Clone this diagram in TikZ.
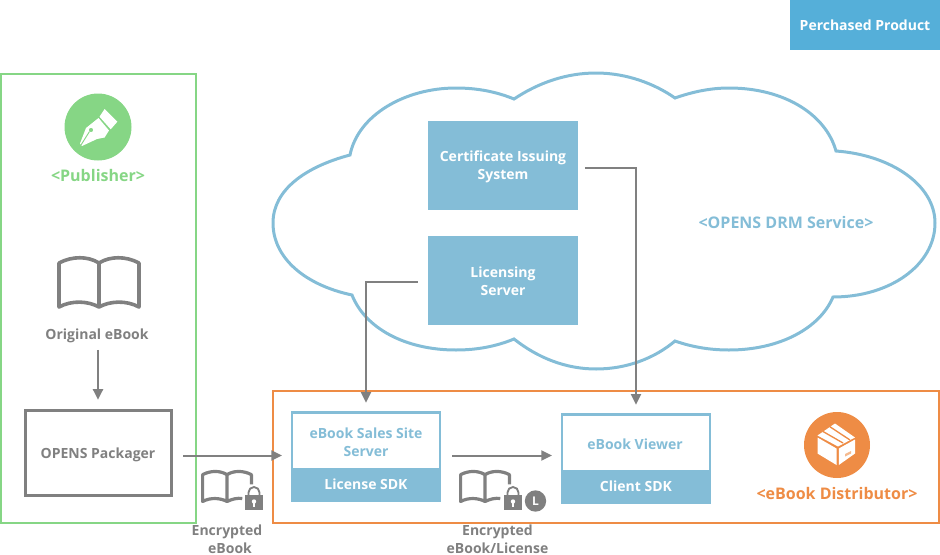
\documentclass[tikz,border=0pt]{standalone}
\usepackage{fontspec}
\setmainfont{Open Sans}[BoldFont={Open Sans Bold}]
\usetikzlibrary{arrows.meta}
\definecolor{cblue}{HTML}{84BDD7}
\definecolor{ckey}{HTML}{55AFD9}
\definecolor{cgreen}{HTML}{86D685}
\definecolor{corange}{HTML}{EE8C45}
\definecolor{cgray}{HTML}{808080}
\tikzset{
  txt/.style={inner sep=0pt,align=center,font=\bfseries\fontsize{10.5}{13.5}\selectfont},
  bluebox/.style={fill=cblue,text=white,inner sep=0pt,align=center,minimum width=112.5pt,font=\bfseries\fontsize{10.5}{13.5}\selectfont},
  frame/.style={draw=#1,line width=1.9pt,fill=none,inner sep=0pt},
  conn/.style={draw=cgray,line width=1.5pt,-{Triangle[length=8pt,width=7.5pt]}},
  bookicon/.pic={
    \draw[line join=round,pic actions]
      (1,50)--(1,6) .. controls (14,-1) and (30,-1) .. (41,6)
      .. controls (52,-1) and (68,-1) .. (81,6) -- (81,50)
      .. controls (68,43) and (52,44) .. (41,50)
      .. controls (30,44) and (14,43) .. (1,50) -- cycle
      (41,6)--(41,50);
  },
  smallbook/.pic={
    \draw[line join=round,pic actions]
      (66,45) .. controls (58,44) and (49,46) .. (41,50)
      .. controls (30,44) and (14,43) .. (1,50) -- (1,6)
      .. controls (14,-1) and (30,-1) .. (41,6)
      .. controls (52,-1) and (68,-1) .. (81,6) -- (81,22)
      (41,6)--(41,50);
  },
  lockicon/.pic={
    \fill[cgray] (0,0) rectangle (18,15);
    \draw[cgray,line width=1.4pt] (3.5,0)--(3.5,-2.5) arc[start angle=180,end angle=0,x radius=5.5,y radius=-5.5] -- (14.5,0);
    \fill[white] (9,6.5) circle[radius=2.2];
    \fill[white] (8,7) rectangle (10,11.5);
  },
}
\begin{document}
\begin{tikzpicture}[x=.75pt,y=-.75pt]
\useasboundingbox (0,0) rectangle (940,554);
% cloud
\draw[cblue,line width=2.25pt,line join=miter,miter limit=1.5]
  (350,155) .. controls (358,115) and (405,88) .. (456,88)
  .. controls (478,88) and (497,92) .. (514,99)
  .. controls (538,83) and (566,73) .. (596,73)
  .. controls (627,73) and (655,84) .. (675,98)
  .. controls (692,92) and (710,88) .. (729,88)
  .. controls (785,88) and (826,115) .. (836,151)
  .. controls (891,155) and (935,185) .. (935,223)
  .. controls (935,265) and (890,297) .. (833,297)
  .. controls (820,328) and (780,350) .. (729,350)
  .. controls (710,350) and (692,347) .. (675,341)
  .. controls (655,358) and (627,369) .. (596,369)
  .. controls (566,369) and (538,358) .. (514,339)
  .. controls (497,346) and (478,350) .. (456,350)
  .. controls (405,350) and (365,328) .. (352,295)
  .. controls (305,285) and (273,258) .. (273,223)
  .. controls (273,190) and (305,167) .. (350,155) -- cycle;
% group frames
\node[frame=cgreen,line width=1.9pt,minimum width=146pt,minimum height=336.75pt] (pub) at (98.5,298.5) {};
\node[frame=corange,line width=1.9pt,minimum width=499.5pt,minimum height=99pt] (dist) at (606,457) {};
% top key
\node[fill=ckey,text=white,txt,minimum width=112.5pt,minimum height=37.5pt] (key) at (865,25) {Perchased Product};
% cloud boxes
\node[bluebox,minimum height=66.75pt] (cert) at (503,165.5) {};
\node[txt,text=white] (certt) at (503,167) {Certificate Issuing\\System};
\node[bluebox,minimum height=66.75pt] (lic) at (503,280.5) {};
\node[txt,text=white] (lict) at (503,281) {Licensing\\Server};
\node[txt,text=cblue] (drm) at (786,222.5) {\fontsize{12}{13.5}\selectfont <OPENS DRM Service>};
% publisher
\fill[cgreen] (98,127) circle[radius=33.5];
\begin{scope}[shift={(-1,0)}]
\fill[white] (105.6,109)--(118.4,121.7)--(111.7,129.3)--(100.5,116.7)--cycle;
\fill[white,even odd rule] (99.5,118)--(87,128)--(81,143.5)--(83,146)--(98,139)--(105.6,137.5)--(110,130.5)--cycle
  (92,130) circle[radius=2.2];
\draw[cgreen,line width=.7pt] (82,145)--(90.5,131.5);
\end{scope}
\node[txt,text=cgreen] (publ) at (98,175.5) {\fontsize{12}{13.5}\selectfont <Publisher>};
\pic[draw=cgray,line width=2.7pt] at (58,257) {bookicon};
\node[txt,text=cgray] (orig) at (97,336) {Original eBook};
\node[draw=cgray,line width=2.25pt,txt,text=cgray,minimum width=109.5pt,minimum height=63.5pt] (pack) at (98,453) {};
\node[txt,text=cgray] (packt) at (98,455) {OPENS Packager};
% sales
\node[frame=cblue,fill=white,line width=2.1pt,minimum width=111pt,minimum height=65.5pt] (sales) at (366,456.5) {};
\node[fill=cblue,minimum width=112.5pt,minimum height=25pt,inner sep=0pt,txt,text=white] (lsdk) at (366,484.5) {License SDK};
\node[txt,text=cblue] (salest) at (366,442) {eBook Sales Site\\Server};
% viewer
\node[frame=cblue,fill=white,line width=2.1pt,minimum width=111pt,minimum height=65.5pt] (view) at (636,458.5) {};
\node[fill=cblue,minimum width=112.5pt,minimum height=25pt,inner sep=0pt,txt,text=white] (csdk) at (636,486.5) {Client SDK};
\node[txt,text=cblue] (viewt) at (635,444.5) {eBook Viewer};
% distributor icon
\fill[corange] (837,445) circle[radius=33];
\fill[white] (817.5,435.5)--(835,423.5)--(855,437.5)--(838,446.5)--cycle;
\fill[white] (817.5,437.5)--(836.5,448.5)--(836.5,465)--(817.5,453.5)--cycle;
\fill[white] (838.8,448.5)--(855,439.5)--(855,453.5)--(838.8,465)--cycle;
\draw[corange,line width=1pt] (823,431.5)--(843,443) (830,426.8)--(850,440);
\fill[corange!60] (845,454)--(851,451)--(851,453.5)--(845,456.5)--cycle;
\node[txt,text=corange] (distl) at (837,493) {\fontsize{12}{13.5}\selectfont <eBook Distributor>};
% small icons
\begin{scope}[shift={(202,471)},scale=.61,transform shape]
\pic[draw=cgray,line width=2.4pt] at (0,0) {smallbook};
\end{scope}
\pic at (245,495) {lockicon};
\begin{scope}[shift={(460,471)},scale=.61,transform shape]
\pic[draw=cgray,line width=2.4pt] at (0,0) {smallbook};
\end{scope}
\pic at (504,495) {lockicon};
\node[circle,fill=cgray,text=white,minimum size=16pt,inner sep=0pt,font=\bfseries\fontsize{9}{10}\selectfont] (lmark) at (535.5,501) {L};
\node[txt,text=cgray] (enc1) at (227,539) {Encrypted\\\hspace{4.5pt}eBook};
\node[txt,text=cgray] (enc2) at (497.5,539) {Encrypted\hspace{2pt}\\eBook/License};
% connectors
\draw[conn,shorten <=5pt,shorten >=7pt] (orig.south -| pack.north) -- (pack.north);
\draw[conn,shorten <=8pt,shorten >=6.5pt] (pack.east |- 0,455.5) -- (sales.west |- 0,455.5);
\draw[conn,shorten <=8pt,shorten >=6.5pt] (sales.east |- 0,455.5) -- (view.west |- 0,455.5);
\draw[conn,shorten <=7.5pt,shorten >=6.5pt] ([yshift=-1pt]lic.west) -| (sales.north);
\draw[conn,shorten <=5pt,shorten >=6.5pt] ([yshift=-1.8pt]cert.east) -| (view.north);
\end{tikzpicture}
\end{document}
